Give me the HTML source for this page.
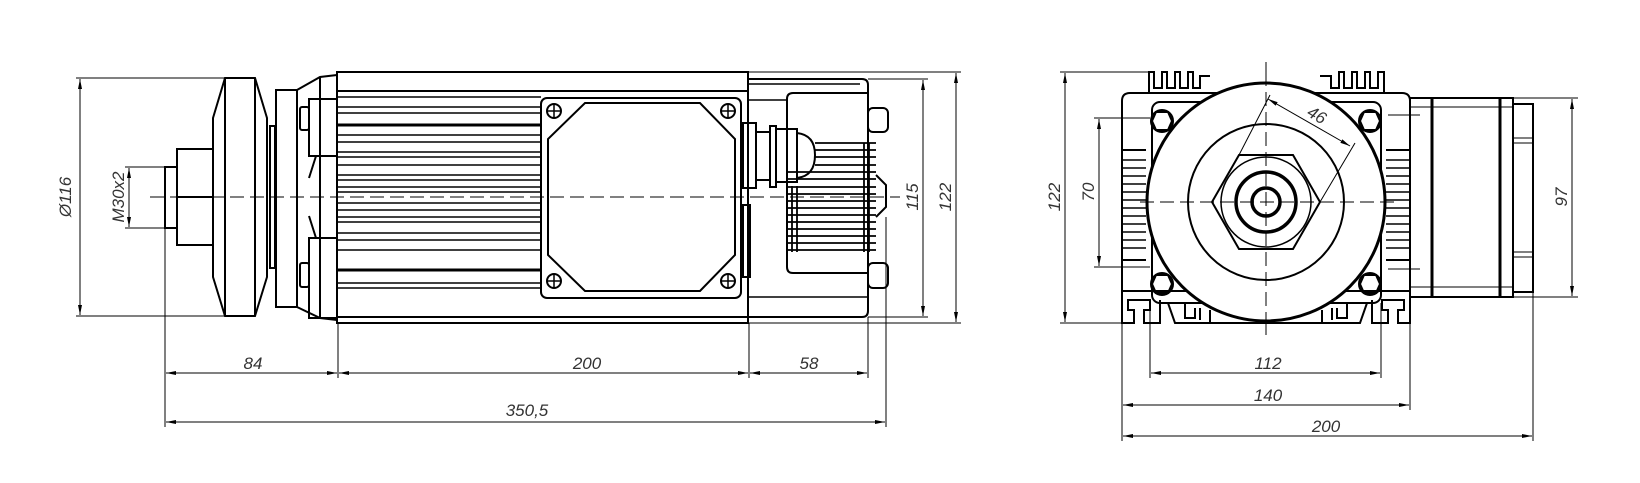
<!DOCTYPE html>
<html><head><meta charset="utf-8"><style>
html,body{margin:0;padding:0;background:#fff;}
svg{display:block;}
text{font-family:"Liberation Sans",sans-serif;font-style:italic;font-size:17px;fill:#333;}
</style></head><body>
<svg width="1640" height="483" viewBox="0 0 1640 483" xmlns="http://www.w3.org/2000/svg">
<defs>
<marker id="a" viewBox="0 0 10 4" refX="10" refY="2" markerWidth="10" markerHeight="4" orient="auto-start-reverse" markerUnits="userSpaceOnUse"><path d="M0,0 L10,2 L0,4z" fill="#000"/></marker>
</defs>
<g fill="none" stroke="#000" stroke-width="1">
<!-- ============ LEFT VIEW ============ -->
<!-- center line -->
<line x1="150" y1="197" x2="900" y2="197" stroke-dasharray="14,6"/>
<!-- dia 116 -->
<line x1="76" y1="78" x2="225" y2="78"/><line x1="76" y1="316" x2="225" y2="316"/>
<line x1="80" y1="79" x2="80" y2="315" marker-start="url(#a)" marker-end="url(#a)"/>
<!-- M30x2 -->
<line x1="125" y1="167" x2="165" y2="167"/><line x1="125" y1="228" x2="165" y2="228"/>
<line x1="129" y1="168" x2="129" y2="227" marker-start="url(#a)" marker-end="url(#a)"/>
<g stroke-width="2">
<!-- thread stub -->
<rect x="165" y="167" width="12" height="61"/>
<!-- nut -->
<rect x="177" y="149" width="36" height="96"/>
<line x1="177" y1="197" x2="213" y2="197"/>
<!-- pulley -->
<path d="M225,78 L255,78 L267,118 L267,277 L255,316 L225,316 L213,277 L213,118 Z"/>
<line x1="225" y1="78" x2="225" y2="316"/><line x1="255" y1="78" x2="255" y2="316"/>
<!-- flange -->
<rect x="270" y="126" width="5" height="142"/>
<rect x="276" y="90" width="21" height="217"/>
<path d="M297,90 L320,77 L337,75 M297,307 L320,318 L337,320"/>
<line x1="320" y1="77" x2="320" y2="318"/>
<!-- bolt housings -->
<rect x="309" y="99" width="28" height="57"/>
<rect x="309" y="238" width="28" height="80"/>
<path d="M309,156 L316,156 L309,178 M309,238 L316,238 L309,216"/>
<rect x="300" y="107" width="9" height="23" rx="2"/>
<rect x="300" y="263" width="9" height="24" rx="2"/>
<!-- body -->
<rect x="337" y="72" width="411" height="251"/>
<line x1="337" y1="91" x2="748" y2="91"/>
<line x1="337" y1="317" x2="748" y2="317"/>
</g>
<!-- fins -->
<g stroke-width="1.6">
<path d="M337,97H541 M337,107H541 M337,113H541 M337,135H541 M337,142H541 M337,152H541 M337,157H541 M337,165H541 M337,175H541 M337,180H541 M337,187H541 M337,192H541 M337,203H541 M337,210H541 M337,217H541 M337,222H541 M337,233H541 M337,240H541 M337,250H541 M337,283H541 M337,288H541"/>
<path d="M337,125H541 M337,270H541" stroke-width="3"/>
</g>
<!-- terminal box -->
<g stroke-width="2">
<rect x="541" y="98" width="200" height="200" rx="6"/>
<path d="M585,103 L700,103 L735,139 L735,255 L700,291 L585,291 L548,255 L548,139 Z"/>
<circle cx="554" cy="111" r="7"/><circle cx="728" cy="111" r="7"/>
<circle cx="554" cy="281" r="7"/><circle cx="728" cy="281" r="7"/>
</g>
<path d="M547,111h14M554,104v14M721,111h14M728,104v14M547,281h14M554,274v14M721,281h14M728,274v14" stroke-width="1.5"/>
<!-- rear section -->
<g stroke-width="2">
<path d="M748,79 L862,79 Q868,79 868,85 L868,311 Q868,317 862,317 L748,317"/>
<path d="M793,93 L868,93 M787,99 L787,267 Q787,273 793,273 L868,273 M793,93 Q787,93 787,99"/>
<rect x="743" y="123" width="13" height="65"/>
<rect x="756" y="132" width="14" height="48"/>
<rect x="770" y="126" width="6" height="61"/>
<rect x="776" y="129" width="21" height="53"/>
<path d="M797,133 Q815,135 815,155 Q815,176 797,178"/>
<rect x="868" y="108" width="20" height="24" rx="5"/>
<rect x="868" y="263" width="20" height="25" rx="5"/>
<path d="M876,175 L886,185 L886,207 L876,217"/>
<rect x="743" y="205" width="7" height="72"/>
</g>
<path d="M748,100H787 M748,297H868 M748,84H860" stroke-width="1.5"/>
<g stroke-width="1.8">
<path d="M815,143H876 M815,150H876 M815,157H876 M815,165H876 M787,172H876 M787,179H876 M787,187H876 M787,194H876 M787,201H876 M787,208H876 M787,215H876 M787,222H876 M787,229H876 M787,236H876 M787,243H876 M787,250H876"/>
<path d="M792,186V252 M797,186V252 M864,143V252 M869,143V252"/>
</g>
<!-- right dims left view -->
<line x1="868" y1="79" x2="928" y2="79"/><line x1="868" y1="317" x2="928" y2="317"/>
<line x1="923" y1="80" x2="923" y2="316" marker-start="url(#a)" marker-end="url(#a)"/>
<line x1="748" y1="72" x2="961" y2="72"/><line x1="748" y1="323" x2="961" y2="323"/>
<line x1="956" y1="73" x2="956" y2="322" marker-start="url(#a)" marker-end="url(#a)"/>
<!-- bottom dims -->
<line x1="165" y1="228" x2="165" y2="427"/>
<line x1="338" y1="323" x2="338" y2="378"/>
<line x1="749" y1="323" x2="749" y2="378"/>
<line x1="868" y1="317" x2="868" y2="378"/>
<line x1="886" y1="217" x2="886" y2="427"/>
<line x1="166" y1="373" x2="337" y2="373" marker-start="url(#a)" marker-end="url(#a)"/>
<line x1="339" y1="373" x2="748" y2="373" marker-start="url(#a)" marker-end="url(#a)"/>
<line x1="750" y1="373" x2="867" y2="373" marker-start="url(#a)" marker-end="url(#a)"/>
<line x1="166" y1="422" x2="885" y2="422" marker-start="url(#a)" marker-end="url(#a)"/>

<!-- ============ RIGHT VIEW ============ -->
<line x1="1266" y1="62" x2="1266" y2="335" stroke-dasharray="14,6"/>
<line x1="1140" y1="202" x2="1395" y2="202" stroke-dasharray="14,6"/>
<!-- housing -->
<g stroke-width="2">
<path d="M1130,93 L1402,93 Q1410,93 1410,101 L1410,291 L1122,291 L1122,101 Q1122,93 1130,93 Z" fill="#fff"/>
<path d="M1149,93V72H1154V88H1162V72H1167V88H1175V72H1180V88H1188V72H1193V88H1200V76H1210 M1320,76H1331V88H1339V72H1344V88H1352V72H1357V88H1365V72H1370V88H1378V72H1384V93"/>
<path d="M1122,150H1146 M1122,260H1146 M1386,150H1410 M1386,260H1410"/>
<path d="M1122,291 L1122,323 L1134,323 L1134,310 L1128,310 L1128,300 L1150,300 L1150,310 L1144,310 L1144,323 L1160,323 L1160,300 M1410,291 L1410,323 L1398,323 L1398,310 L1404,310 L1404,300 L1382,300 L1382,310 L1388,310 L1388,323 L1372,323 L1372,300"/>
<path d="M1168,303 L1175,323 L1360,323 L1367,303"/>
<path d="M1185,303V318H1195V308 M1200,308V320 M1210,310V322 M1322,310V322 M1332,308V320 M1337,308V318H1347V303"/>
</g>
<g stroke-width="1.6">
<path d="M1122,160H1146 M1122,168H1146 M1122,176H1146 M1122,184H1146 M1122,192H1146 M1122,200H1146 M1122,208H1146 M1122,216H1146 M1122,224H1146 M1122,232H1146 M1122,240H1146 M1122,248H1146"/>
<path d="M1386,160H1410 M1386,168H1410 M1386,176H1410 M1386,184H1410 M1386,192H1410 M1386,200H1410 M1386,208H1410 M1386,216H1410 M1386,224H1410 M1386,232H1410 M1386,240H1410 M1386,248H1410"/>
</g>
<rect x="1152" y="102" width="229" height="201" rx="8" stroke-width="2"/>
<circle cx="1266" cy="202" r="119" stroke-width="3" fill="#fff"/>
<line x1="1266" y1="72" x2="1266" y2="335" stroke-dasharray="14,6"/>
<line x1="1140" y1="202" x2="1395" y2="202" stroke-dasharray="14,6"/>
<circle cx="1266" cy="202" r="78" stroke-width="2"/>
<path d="M1212,202 L1239,155 L1293,155 L1320,202 L1293,249 L1239,249 Z" stroke-width="2"/>
<circle cx="1266" cy="202" r="45" stroke-width="1.5"/>
<circle cx="1266" cy="202" r="30" stroke-width="3.5"/>
<circle cx="1266" cy="202" r="14" stroke-width="3.5"/>
<g stroke-width="2">
<circle cx="1162" cy="121" r="11"/><circle cx="1370" cy="121" r="11"/>
<circle cx="1162" cy="284" r="11"/><circle cx="1370" cy="284" r="11"/>
<path d="M1156,112L1168,112L1172,121L1168,130L1156,130L1152,121Z M1364,112L1376,112L1380,121L1376,130L1364,130L1360,121Z M1156,275L1168,275L1172,284L1168,293L1156,293L1152,284Z M1364,275L1376,275L1380,284L1376,293L1364,293L1360,284Z"/>
</g>
<!-- 46 dim -->
<line x1="1239" y1="155" x2="1270" y2="95"/>
<line x1="1320" y1="202" x2="1355" y2="143"/>
<line x1="1268" y1="99" x2="1350" y2="146" marker-start="url(#a)" marker-end="url(#a)"/>
<!-- fan -->
<g stroke-width="2">
<rect x="1410" y="98" width="103" height="199"/>
<line x1="1432" y1="98" x2="1432" y2="297" stroke-width="3"/>
<line x1="1500" y1="98" x2="1500" y2="297" stroke-width="3"/>
<path d="M1513,104H1533V292H1513"/>
</g>
<path d="M1410,107H1513 M1410,287H1513 M1513,138H1533 M1513,143H1533 M1513,252H1533 M1513,257H1533 M1388,115H1420 M1388,269H1420"/>
<!-- right view dims -->
<line x1="1060" y1="72" x2="1150" y2="72"/><line x1="1060" y1="323" x2="1122" y2="323"/>
<line x1="1065" y1="73" x2="1065" y2="322" marker-start="url(#a)" marker-end="url(#a)"/>
<line x1="1094" y1="118" x2="1150" y2="118"/><line x1="1094" y1="267" x2="1150" y2="267"/>
<line x1="1099" y1="119" x2="1099" y2="266" marker-start="url(#a)" marker-end="url(#a)"/>
<line x1="1513" y1="98" x2="1578" y2="98"/><line x1="1513" y1="297" x2="1578" y2="297"/>
<line x1="1572" y1="99" x2="1572" y2="296" marker-start="url(#a)" marker-end="url(#a)"/>
<line x1="1150" y1="303" x2="1150" y2="378"/>
<line x1="1381" y1="303" x2="1381" y2="378"/>
<line x1="1122" y1="323" x2="1122" y2="441"/>
<line x1="1410" y1="323" x2="1410" y2="410"/>
<line x1="1533" y1="292" x2="1533" y2="441"/>
<line x1="1151" y1="373" x2="1380" y2="373" marker-start="url(#a)" marker-end="url(#a)"/>
<line x1="1123" y1="405" x2="1409" y2="405" marker-start="url(#a)" marker-end="url(#a)"/>
<line x1="1123" y1="436" x2="1532" y2="436" marker-start="url(#a)" marker-end="url(#a)"/>
</g>
<!-- texts -->
<text x="253" y="369" text-anchor="middle">84</text>
<text x="587" y="369" text-anchor="middle">200</text>
<text x="809" y="369" text-anchor="middle">58</text>
<text x="527" y="416" text-anchor="middle">350,5</text>
<text transform="translate(71,197) rotate(-90)" text-anchor="middle">Ø116</text>
<text transform="translate(124,197) rotate(-90)" text-anchor="middle">M30x2</text>
<text transform="translate(918,197) rotate(-90)" text-anchor="middle">115</text>
<text transform="translate(951,197) rotate(-90)" text-anchor="middle">122</text>
<text transform="translate(1060,197) rotate(-90)" text-anchor="middle">122</text>
<text transform="translate(1094,192) rotate(-90)" text-anchor="middle">70</text>
<text transform="translate(1314,120) rotate(30)" text-anchor="middle">46</text>
<text transform="translate(1567,197) rotate(-90)" text-anchor="middle">97</text>
<text x="1268" y="369" text-anchor="middle">112</text>
<text x="1268" y="401" text-anchor="middle">140</text>
<text x="1326" y="432" text-anchor="middle">200</text>
</svg>
</body></html>
